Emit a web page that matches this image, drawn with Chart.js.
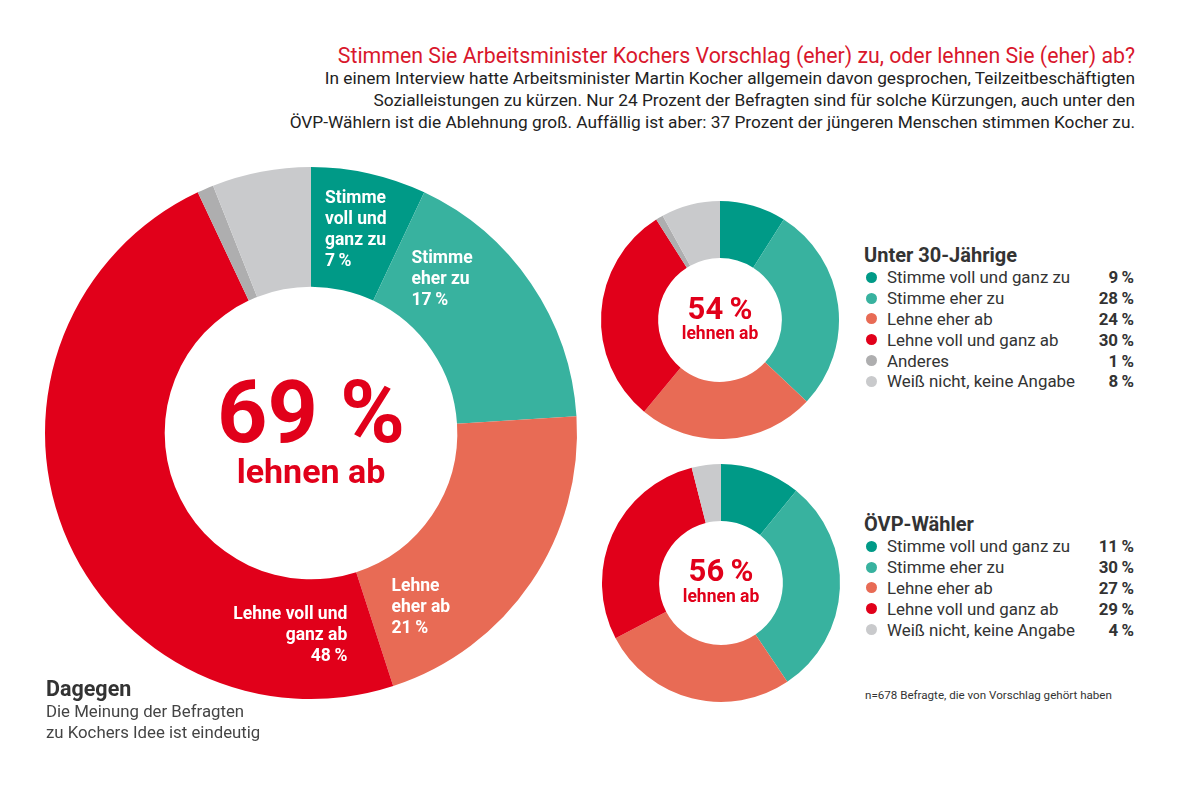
<!DOCTYPE html>
<html lang="de">
<head>
<meta charset="utf-8">
<script src="https://cdn.jsdelivr.net/npm/chart.js@4.4.1/dist/chart.umd.min.js"></script>
<style>
  html, body { margin: 0; padding: 0; background: #fff; }
  #wrap { position: relative; width: 1182px; height: 786px; background: #fff; font-family: Roboto, "Noto Sans", sans-serif; color: #333; overflow: hidden; }
  canvas { position: absolute; }
  .title { position: absolute; right: 47px; top: 43px; font-size: 21.3px; color: #D9172C; white-space: nowrap; text-align: right; }
  .sub { position: absolute; right: 47px; top: 67px; font-size: 17.3px; line-height: 22px; color: #222; text-align: right; white-space: nowrap; }
  .legend { position: absolute; left: 864px; width: 270px; }
  .legend h3 { margin: 0; font-size: 20px; font-weight: 700; color: #333; line-height: 24px; }
  .row { display: flex; align-items: center; height: 20.8px; font-size: 16.9px; color: #333; }
  .dot { width: 11px; height: 11px; border-radius: 50%; margin: 0 10px 0 2px; flex: none; }
  .row .lab { flex: 1; }
  .row .val { font-weight: 700; text-align: right; width: 50px; }
  .dag { position: absolute; left: 46px; top: 677px; }
  .dag b { display: block; font-size: 21.5px; color: #333; line-height: 24px; }
  .dag span { display: block; font-size: 16.8px; color: #444; line-height: 21px; }
  .note { position: absolute; left: 865px; top: 688px; font-size: 11.6px; color: #333; }
</style>
</head>
<body>
<div id="wrap">
  <div class="title">Stimmen Sie Arbeitsminister Kochers Vorschlag (eher) zu, oder lehnen Sie (eher) ab?</div>
  <div class="sub">In einem Interview hatte Arbeitsminister Martin Kocher allgemein davon gesprochen, Teilzeitbeschäftigten<br>Sozialleistungen zu kürzen. Nur 24 Prozent der Befragten sind für solche Kürzungen, auch unter den<br>ÖVP-Wählern ist die Ablehnung groß. Auffällig ist aber: 37 Prozent der jüngeren Menschen stimmen Kocher zu.</div>

  <canvas id="cMain" width="560" height="560" style="left:31px;top:153px;width:560px;height:560px"></canvas>
  <canvas id="cYoung" width="250" height="250" style="left:595px;top:195px;width:250px;height:250px"></canvas>
  <canvas id="cOevp" width="250" height="250" style="left:596px;top:458px;width:250px;height:250px"></canvas>

  <div class="legend" id="legYoung" style="top:243px"></div>
  <div class="legend" id="legOevp" style="top:512px"></div>

  <div class="dag"><b>Dagegen</b><span>Die Meinung der Befragten</span><span>zu Kochers Idee ist eindeutig</span></div>
  <div class="note">n=678 Befragte, die von Vorschlag gehört haben</div>
</div>
<script>
// ---- Data ----
const categories = ["Stimme voll und ganz zu", "Stimme eher zu", "Lehne eher ab", "Lehne voll und ganz ab", "Anderes", "Weiß nicht, keine Angabe"];
const colors = ["#009A87", "#38B29F", "#E86B55", "#E1001A", "#AEAEAF", "#C9CACC"];
const totalValues = [7, 17, 21, 48, 1, 6];
const youngCategories = ["Stimme voll und ganz zu", "Stimme eher zu", "Lehne eher ab", "Lehne voll und ganz ab", "Anderes", "Weiß nicht, keine Angabe"];
const youngValues = [9, 28, 24, 30, 1, 8];
const oevpCategories = ["Stimme voll und ganz zu", "Stimme eher zu", "Lehne eher ab", "Lehne voll und ganz ab", "Weiß nicht, keine Angabe"];
const oevpValues = [11, 30, 27, 29, 4];
const rejectCategories = ["Lehne eher ab", "Lehne voll und ganz ab"];
const mainSliceLabels = [["Stimme", "voll und", "ganz zu"], ["Stimme", "eher zu"], ["Lehne", "eher ab"], ["Lehne voll und", "ganz ab"], null, null];

const colorOf = c => colors[categories.indexOf(c)];
const rejectShare = (cats, vals) => cats.reduce((s, c, i) => s + (rejectCategories.includes(c) ? vals[i] : 0), 0);
const THIN = "\u2009";

// label placement styles (offsets from slice centroid)
const labelStyle = [
  { align: "left", dx: -31, dy: -33 },
  { align: "left", dx: -70, dy: -59 },
  { align: "left", dx: -90, dy: 38 },
  { align: "right", dx: 228, dy: 106 }
];

const centerText = {
  id: "centerText",
  afterDraw(chart, args, opts) {
    const { ctx } = chart;
    const a = chart.getDatasetMeta(0).data[0];
    const x = a.x, y = a.y;
    ctx.save();
    ctx.fillStyle = "#E1001A";
    ctx.textAlign = "center";
    ctx.textBaseline = "middle";
    ctx.font = "700 " + opts.big + "px Roboto, sans-serif";
    ctx.fillText(opts.value + opts.sep + "%", x, y + opts.bigDy);
    ctx.font = "700 " + opts.small + "px Roboto, sans-serif";
    ctx.fillText("lehnen ab", x, y + opts.smallDy);
    ctx.restore();
  }
};

const sliceLabels = {
  id: "sliceLabels",
  afterDatasetsDraw(chart, args, opts) {
    if (!opts.labels) return;
    const { ctx } = chart;
    const meta = chart.getDatasetMeta(0);
    const vals = chart.data.datasets[0].data;
    ctx.save();
    ctx.fillStyle = "#fff";
    ctx.font = "700 17.5px Roboto, sans-serif";
    ctx.textBaseline = "middle";
    meta.data.forEach((arc, i) => {
      const lines = opts.labels[i];
      if (!lines) return;
      const st = labelStyle[i];
      const p = arc.tooltipPosition();
      const all = lines.concat([vals[i] + THIN + "%"]);
      ctx.textAlign = st.align;
      all.forEach((t, k) => ctx.fillText(t, p.x + st.dx, p.y + st.dy + k * 21));
    });
    ctx.restore();
  }
};

function donut(id, cats, vals, pad, cutout, center, labels) {
  new Chart(document.getElementById(id), {
    type: "doughnut",
    data: { labels: cats, datasets: [{ data: vals, backgroundColor: cats.map(colorOf), borderWidth: 0, hoverOffset: 0 }] },
    options: {
      responsive: false, animation: false, cutout: cutout,
      layout: { padding: pad },
      plugins: { legend: { display: false }, tooltip: { enabled: false },
        centerText: center, sliceLabels: { labels: labels } },
      events: []
    },
    plugins: [centerText, sliceLabels]
  });
}

donut("cMain", categories, totalValues, 14, "55%", { value: rejectShare(categories, totalValues), sep: " ", big: 88, bigDy: -13, small: 34, smallDy: 41 }, mainSliceLabels);
donut("cYoung", youngCategories, youngValues, 6, "52%", { value: rejectShare(youngCategories, youngValues), sep: THIN, big: 31, bigDy: -9, small: 17.5, smallDy: 15 }, null);
donut("cOevp", oevpCategories, oevpValues, 6, "52%", { value: rejectShare(oevpCategories, oevpValues), sep: THIN, big: 31, bigDy: -10, small: 17.5, smallDy: 15 }, null);

function legend(id, title, cats, vals) {
  const el = document.getElementById(id);
  let h = "<h3>" + title + "</h3>";
  cats.forEach((c, i) => {
    h += '<div class="row"><span class="dot" style="background:' + colorOf(c) + '"></span><span class="lab">' + c + '</span><span class="val">' + vals[i] + THIN + '%</span></div>';
  });
  el.innerHTML = h;
}
legend("legYoung", "Unter 30-Jährige", youngCategories, youngValues);
legend("legOevp", "ÖVP-Wähler", oevpCategories, oevpValues);
</script>
</body>
</html>
